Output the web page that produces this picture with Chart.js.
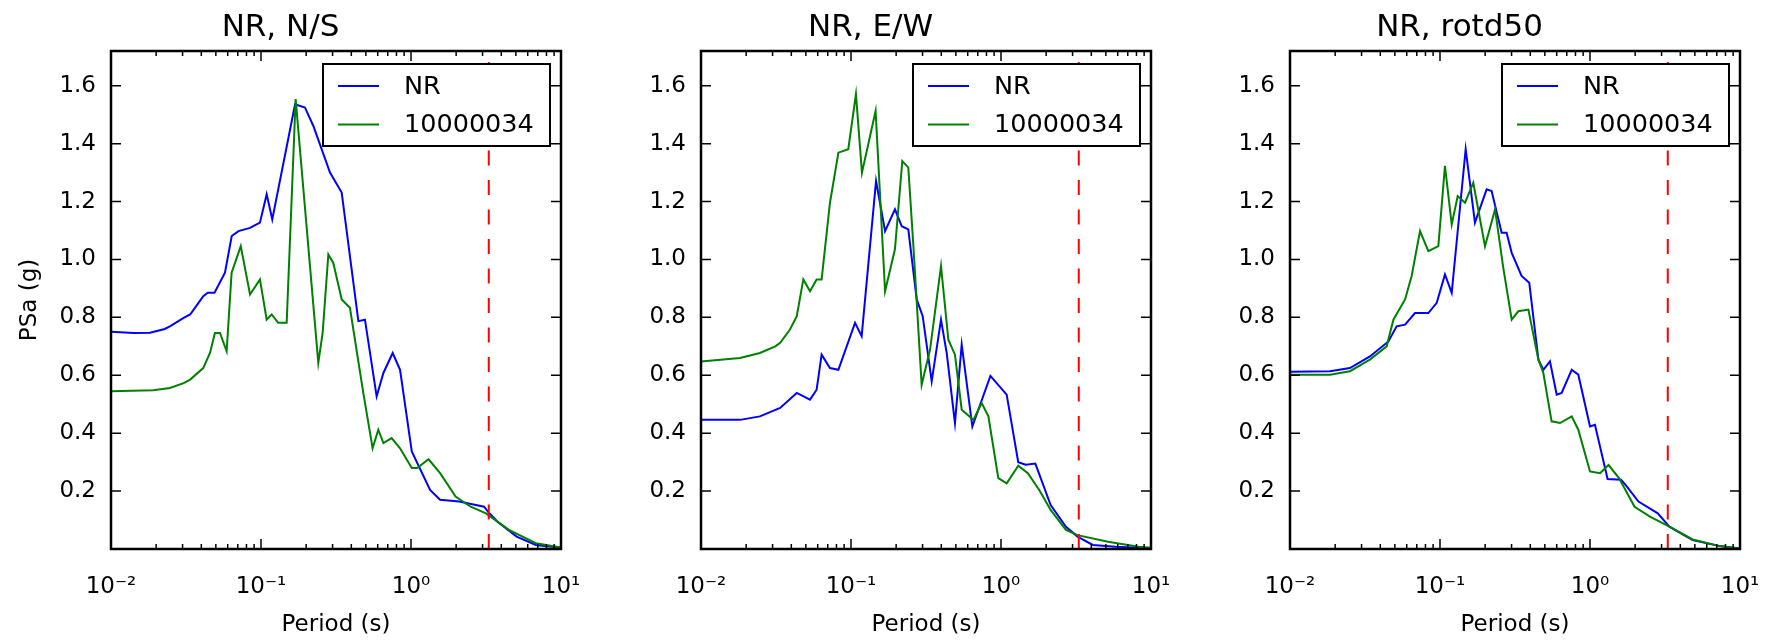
<!DOCTYPE html>
<html>
<head>
<meta charset="utf-8">
<script src="https://cdn.jsdelivr.net/npm/chart.js@4.4.0/dist/chart.umd.min.js"></script>
<style>
  html, body { margin: 0; padding: 0; background: #fff; overflow: hidden; }
  #wrap { position: relative; width: 1777px; height: 642px; overflow: hidden; }
  canvas { position: absolute; top: 0; }
</style>
</head>
<body>
<div id="wrap">
  <canvas id="ns" width="672" height="642" style="left:0px"></canvas>
  <canvas id="ew" width="672" height="642" style="left:590px"></canvas>
  <canvas id="rd" width="672" height="642" style="left:1179px"></canvas>
</div>
<script>
// --- axes ---
const periodTicks = [0.01, 0.1, 1, 10];
const periodTickLabels = ['10⁻²', '10⁻¹', '10⁰', '10¹'];
const minorSteps = [2, 3, 4, 5, 6, 7, 8, 9];
const psaTicks = [0.2, 0.4, 0.6, 0.8, 1.0, 1.2, 1.4, 1.6];
const psaRange = [0, 1.72];
const cutoffPeriod = 3.3;
const seriesNames = ['NR', '10000034'];

// --- N/S ---
const nsNrT = [0.01, 0.0142, 0.0182, 0.0228, 0.0247, 0.0305, 0.0337, 0.0363, 0.0412, 0.0442, 0.049, 0.0575, 0.0638, 0.0708, 0.0845, 0.0984, 0.1091, 0.1189, 0.1687, 0.1963, 0.2234, 0.2884, 0.3451, 0.4457, 0.4932, 0.5902, 0.6546, 0.7551, 0.8453, 1.012, 1.34, 1.563, 2.094, 3.069, 3.258, 3.776, 5.058, 6.792, 10];
const nsNrPsa = [0.750, 0.746, 0.747, 0.760, 0.769, 0.798, 0.810, 0.833, 0.873, 0.885, 0.885, 0.954, 1.081, 1.098, 1.109, 1.127, 1.225, 1.138, 1.536, 1.525, 1.461, 1.300, 1.231, 0.787, 0.792, 0.527, 0.608, 0.677, 0.619, 0.337, 0.204, 0.170, 0.164, 0.146, 0.129, 0.094, 0.043, 0.014, 0.004];
const nsRecT = [0.01, 0.0191, 0.0247, 0.0305, 0.0337, 0.0412, 0.0457, 0.0493, 0.0533, 0.059, 0.0637, 0.0733, 0.0845, 0.0984, 0.1091, 0.1178, 0.1303, 0.1483, 0.1702, 0.241, 0.2576, 0.2812, 0.3034, 0.3451, 0.3917, 0.4808, 0.5546, 0.6053, 0.6546, 0.743, 0.8453, 1.012, 1.1, 1.309, 1.563, 1.982, 2.5, 3.162, 4.498, 6.792, 10];
const nsRecPsa = [0.545, 0.548, 0.556, 0.573, 0.585, 0.625, 0.677, 0.746, 0.746, 0.683, 0.954, 1.046, 0.879, 0.931, 0.792, 0.810, 0.781, 0.781, 1.554, 0.643, 0.746, 1.017, 0.988, 0.862, 0.833, 0.539, 0.348, 0.412, 0.366, 0.383, 0.348, 0.280, 0.280, 0.310, 0.262, 0.181, 0.146, 0.123, 0.066, 0.020, 0.005];

// --- E/W ---
const ewNrT = [0.01, 0.0182, 0.0247, 0.0337, 0.0435, 0.0533, 0.059, 0.0637, 0.0724, 0.0824, 0.1064, 0.1178, 0.1469, 0.1687, 0.1963, 0.2178, 0.241, 0.2742, 0.3006, 0.3451, 0.3981, 0.4345, 0.4932, 0.547, 0.6442, 0.85, 1.091, 1.303, 1.462, 1.694, 2.143, 2.71, 3.236, 4.093, 5.821, 10];
const ewNrPsa = [0.446, 0.446, 0.458, 0.487, 0.539, 0.516, 0.550, 0.671, 0.625, 0.619, 0.781, 0.735, 1.271, 1.098, 1.173, 1.115, 1.104, 0.862, 0.804, 0.579, 0.792, 0.677, 0.435, 0.706, 0.423, 0.598, 0.533, 0.300, 0.291, 0.295, 0.152, 0.077, 0.043, 0.014, 0.008, 0.003];
const ewRecT = [0.01, 0.0182, 0.0247, 0.0313, 0.0337, 0.0392, 0.0435, 0.0481, 0.0533, 0.059, 0.0637, 0.0724, 0.0824, 0.0959, 0.1079, 0.1183, 0.1459, 0.1687, 0.1963, 0.2198, 0.241, 0.2606, 0.2958, 0.3365, 0.3981, 0.4457, 0.4932, 0.547, 0.6546, 0.743, 0.8241, 0.9594, 1.091, 1.271, 1.303, 1.51, 1.799, 2.143, 2.71, 3.236, 5.164, 8.279, 10];
const ewRecPsa = [0.648, 0.660, 0.677, 0.700, 0.712, 0.758, 0.804, 0.931, 0.890, 0.931, 0.931, 1.196, 1.369, 1.381, 1.571, 1.300, 1.513, 0.890, 1.035, 1.340, 1.317, 1.046, 0.567, 0.689, 0.977, 0.723, 0.671, 0.481, 0.446, 0.504, 0.458, 0.245, 0.227, 0.279, 0.288, 0.262, 0.204, 0.135, 0.066, 0.048, 0.025, 0.008, 0.004];

// --- rotd50 ---
const rdNrT = [0.01, 0.0185, 0.0251, 0.0341, 0.0453, 0.0514, 0.0585, 0.0681, 0.0836, 0.0951, 0.1079, 0.1197, 0.1483, 0.171, 0.2046, 0.2208, 0.2576, 0.278, 0.3006, 0.3499, 0.3936, 0.4529, 0.4887, 0.5408, 0.5998, 0.6471, 0.7551, 0.8356, 1.0, 1.079, 1.31, 1.611, 1.758, 2.104, 2.831, 3.381, 4.831, 7.328, 10];
const rdNrPsa = [0.612, 0.614, 0.625, 0.665, 0.717, 0.769, 0.775, 0.815, 0.815, 0.850, 0.948, 0.885, 1.381, 1.127, 1.242, 1.236, 1.092, 1.092, 1.023, 0.943, 0.920, 0.654, 0.619, 0.648, 0.533, 0.539, 0.619, 0.602, 0.423, 0.429, 0.242, 0.239, 0.216, 0.164, 0.123, 0.077, 0.031, 0.010, 0.002];
const rdRecT = [0.01, 0.0185, 0.0251, 0.0341, 0.0441, 0.0489, 0.0585, 0.0647, 0.0736, 0.0836, 0.0975, 0.1079, 0.1197, 0.1312, 0.1469, 0.1667, 0.1995, 0.2328, 0.2642, 0.3006, 0.3327, 0.3882, 0.4529, 0.4887, 0.5546, 0.631, 0.7551, 0.8356, 1.0, 1.167, 1.33, 1.56, 1.982, 2.512, 3.381, 4.831, 7.328, 10];
const rdRecPsa = [0.602, 0.602, 0.614, 0.654, 0.700, 0.792, 0.862, 0.943, 1.098, 1.029, 1.046, 1.323, 1.121, 1.219, 1.196, 1.265, 1.046, 1.173, 0.971, 0.792, 0.821, 0.827, 0.654, 0.608, 0.441, 0.435, 0.458, 0.412, 0.268, 0.262, 0.290, 0.245, 0.146, 0.112, 0.077, 0.033, 0.010, 0.002];

Chart.defaults.font.family = '"DejaVu Sans", sans-serif';
Chart.defaults.color = '#000';

// frame + inward ticks like the old matplotlib style
const frameTicks = {
  id: 'frameTicks',
  afterDatasetsDraw(chart) {
    const {ctx, chartArea: a, scales: {x, y}} = chart;
    ctx.save();
    ctx.strokeStyle = '#000';
    ctx.lineWidth = 1.5;
    ctx.beginPath();
    const tick = (px, len) => {
      ctx.moveTo(px, a.bottom); ctx.lineTo(px, a.bottom - len);
      ctx.moveTo(px, a.top); ctx.lineTo(px, a.top + len);
    };
    periodTicks.forEach((t, i) => {
      tick(x.getPixelForValue(t), 10);
      if (i < periodTicks.length - 1) minorSteps.forEach(m => tick(x.getPixelForValue(t * m), 5));
    });
    psaTicks.forEach(v => {
      const py = y.getPixelForValue(v);
      ctx.moveTo(a.left, py); ctx.lineTo(a.left + 10, py);
      ctx.moveTo(a.right, py); ctx.lineTo(a.right - 10, py);
    });
    ctx.stroke();
    ctx.lineWidth = 2.5;
    ctx.strokeRect(a.left, a.top, a.right - a.left, a.bottom - a.top);
    ctx.restore();
  }
};

const boxLegend = {
  id: 'boxLegend',
  afterDraw(chart) {
    const {ctx, chartArea: a} = chart;
    const w = 227, h = 82;
    const x0 = a.right - 11 - w, y0 = a.top + 13;
    ctx.save();
    ctx.fillStyle = '#fff';
    ctx.fillRect(x0, y0, w, h);
    ctx.strokeStyle = '#000';
    ctx.lineWidth = 2;
    ctx.strokeRect(x0, y0, w, h);
    ctx.font = '25.5px "DejaVu Sans"';
    ctx.textBaseline = 'middle';
    chart.data.datasets.slice(0, 2).forEach((ds, i) => {
      const yy = y0 + 22 + i * 38.5;
      ctx.strokeStyle = ds.borderColor;
      ctx.beginPath();
      ctx.moveTo(x0 + 15, yy);
      ctx.lineTo(x0 + 56, yy);
      ctx.stroke();
      ctx.fillStyle = '#000';
      ctx.fillText(ds.label, x0 + 81, yy + 1);
    });
    ctx.restore();
  }
};

function pts(t, v) {
  return t.map((p, i) => ({x: p, y: v[i]}));
}

function panel(id, title, nrT, nrPsa, recT, recPsa, showYTitle) {
  return new Chart(document.getElementById(id), {
    type: 'line',
    data: {
      datasets: [
        {label: seriesNames[0], data: pts(nrT, nrPsa), borderColor: '#0000ff', borderWidth: 2, pointRadius: 0, order: 3},
        {label: seriesNames[1], data: pts(recT, recPsa), borderColor: '#008000', borderWidth: 2, pointRadius: 0, order: 2},
        {label: 'cutoff', data: pts([cutoffPeriod, cutoffPeriod], psaRange), borderColor: '#ff0000', borderWidth: 2,
         borderDash: [15, 14.5], borderDashOffset: 0, pointRadius: 0, order: 1}
      ]
    },
    options: {
      responsive: false,
      animation: false,
      events: [],
      layout: {padding: {left: 0, right: 111, top: 0, bottom: 0}},
      plugins: {
        legend: {display: false},
        tooltip: {enabled: false},
        title: {display: true, text: title, font: {size: 31, weight: 'normal'}, padding: {top: 9.4, bottom: 4.4}}
      },
      scales: {
        x: {
          type: 'logarithmic',
          min: periodTicks[0],
          max: periodTicks[periodTicks.length - 1],
          grid: {display: false, drawTicks: false},
          border: {display: false},
          afterBuildTicks: s => { s.ticks = periodTicks.map(v => ({value: v})); },
          afterFit: s => { s.height = 93; },
          ticks: {autoSkip: false, maxRotation: 0, padding: 24, font: {size: 23},
                  callback: (v, i) => periodTickLabels[i]},
          title: {display: true, text: 'Period (s)', font: {size: 23}, padding: {top: 0, bottom: 3}}
        },
        y: {
          min: psaRange[0],
          max: psaRange[1],
          grid: {display: false, drawTicks: false},
          border: {display: false},
          afterBuildTicks: s => { s.ticks = psaTicks.map(v => ({value: v})); },
          afterFit: s => { s.width = 111; },
          ticks: {padding: 15, font: {size: 23}, callback: v => v.toFixed(1)},
          title: {display: showYTitle, text: 'PSa (g)', font: {size: 23}, padding: {top: 16, bottom: 0}}
        }
      }
    },
    plugins: [frameTicks, boxLegend]
  });
}

panel('ns', 'NR, N/S', nsNrT, nsNrPsa, nsRecT, nsRecPsa, true);
panel('ew', 'NR, E/W', ewNrT, ewNrPsa, ewRecT, ewRecPsa, false);
panel('rd', 'NR, rotd50', rdNrT, rdNrPsa, rdRecT, rdRecPsa, false);
</script>
</body>
</html>
